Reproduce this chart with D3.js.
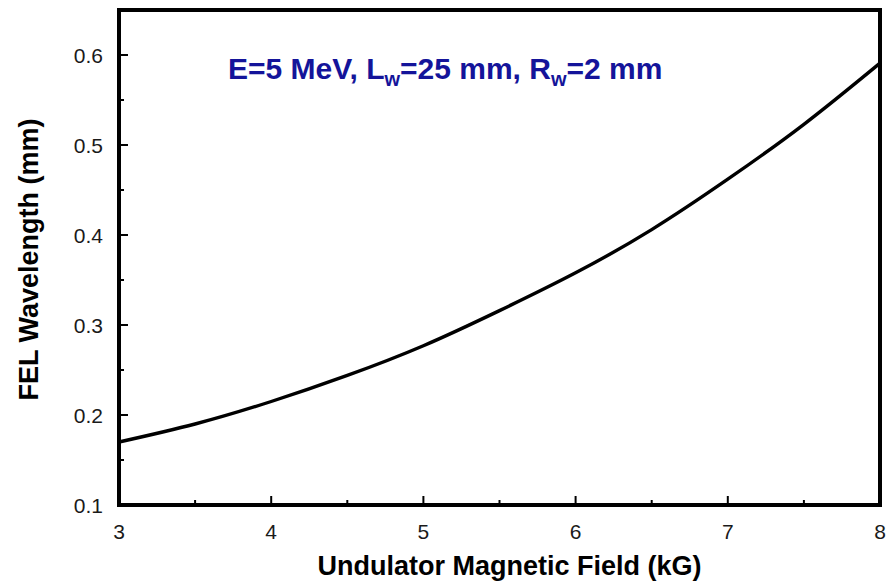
<!DOCTYPE html>
<html>
<head>
<meta charset="utf-8">
<script src="https://cdn.jsdelivr.net/npm/d3@7"></script>
<style>
  html, body { margin: 0; padding: 0; background: #fff; }
  svg { display: block; font-family: "Liberation Sans", Arial, sans-serif; }
</style>
</head>
<body>
<svg id="chart" width="888" height="582"></svg>
<script>
// Undulator field (kG) and resulting FEL wavelength (mm)
const fieldKG = [3.0, 3.5, 4.0, 4.5, 5.0, 5.5, 6.0, 6.5, 7.0, 7.5, 8.0];
const wavelengthMM = [0.170, 0.190, 0.215, 0.244, 0.277, 0.316, 0.358, 0.406, 0.462, 0.523, 0.591];

const xTicks = [3, 4, 5, 6, 7, 8];
const xMinorTicks = [3.5, 4.5, 5.5, 6.5, 7.5];
const yTicks = [0.1, 0.2, 0.3, 0.4, 0.5, 0.6];
const yMinorTicks = [0.15, 0.25, 0.35, 0.45, 0.55];

const svg = d3.select("#chart");
const margin = { left: 119, right: 8, top: 10, bottom: 77 };
const W = 888, H = 582;

const x = d3.scaleLinear().domain([3, 8]).range([margin.left, W - margin.right]);
const y = d3.scaleLinear().domain([0.1, 0.65]).range([H - margin.bottom, margin.top]);

// inward ticks
const tickG = svg.append("g").attr("stroke", "#000").attr("stroke-width", 2);
tickG.selectAll(".xt").data(xTicks.slice(1, -1)).join("line")
  .attr("x1", d => x(d)).attr("x2", d => x(d))
  .attr("y1", y(0.1)).attr("y2", y(0.1) - 9);
tickG.selectAll(".xm").data(xMinorTicks).join("line")
  .attr("x1", d => x(d)).attr("x2", d => x(d))
  .attr("y1", y(0.1)).attr("y2", y(0.1) - 5);
tickG.selectAll(".yt").data(yTicks.slice(1)).join("line")
  .attr("x1", x(3)).attr("x2", x(3) + 9)
  .attr("y1", d => y(d)).attr("y2", d => y(d));
tickG.selectAll(".ym").data(yMinorTicks).join("line")
  .attr("x1", x(3)).attr("x2", x(3) + 5)
  .attr("y1", d => y(d)).attr("y2", d => y(d));

// frame
svg.append("rect")
  .attr("x", x(3)).attr("y", y(0.65))
  .attr("width", x(8) - x(3)).attr("height", y(0.1) - y(0.65))
  .attr("fill", "none").attr("stroke", "#000").attr("stroke-width", 4);

// tick labels
svg.append("g").selectAll("text").data(xTicks).join("text")
  .attr("x", d => x(d)).attr("y", y(0.1) + 34)
  .attr("text-anchor", "middle").attr("font-size", 21).attr("fill", "#1a1a1a")
  .text(d => d);
svg.append("g").selectAll("text").data(yTicks).join("text")
  .attr("x", x(3) - 16).attr("y", d => y(d) + 7.5)
  .attr("text-anchor", "end").attr("font-size", 21).attr("fill", "#1a1a1a")
  .text(d => d.toFixed(1));

// axis titles
svg.append("text")
  .attr("x", (x(3) + x(8)) / 2 + 10).attr("y", 575)
  .attr("text-anchor", "middle").attr("font-size", 27).attr("font-weight", "bold")
  .text("Undulator Magnetic Field (kG)");
svg.append("text")
  .attr("transform", `translate(38, ${(y(0.1) + y(0.65)) / 2 + 2}) rotate(-90)`)
  .attr("text-anchor", "middle").attr("font-size", 27).attr("font-weight", "bold")
  .text("FEL Wavelength (mm)");

// beam parameters
const note = svg.append("text")
  .attr("x", 228).attr("y", 79)
  .attr("font-size", 30).attr("font-weight", "bold").attr("fill", "#14149a");
note.append("tspan").text("E=5 MeV, L");
note.append("tspan").attr("font-size", 20).attr("dy", 7).text("w");
note.append("tspan").attr("dy", -7).text("=25 mm, R");
note.append("tspan").attr("font-size", 20).attr("dy", 7).text("w");
note.append("tspan").attr("dy", -7).text("=2 mm");

// wavelength curve
const line = d3.line()
  .x((d, i) => x(fieldKG[i]))
  .y(d => y(d))
  .curve(d3.curveNatural);
svg.append("path")
  .datum(wavelengthMM)
  .attr("d", line)
  .attr("fill", "none").attr("stroke", "#000").attr("stroke-width", 3.4);
</script>
</body>
</html>
